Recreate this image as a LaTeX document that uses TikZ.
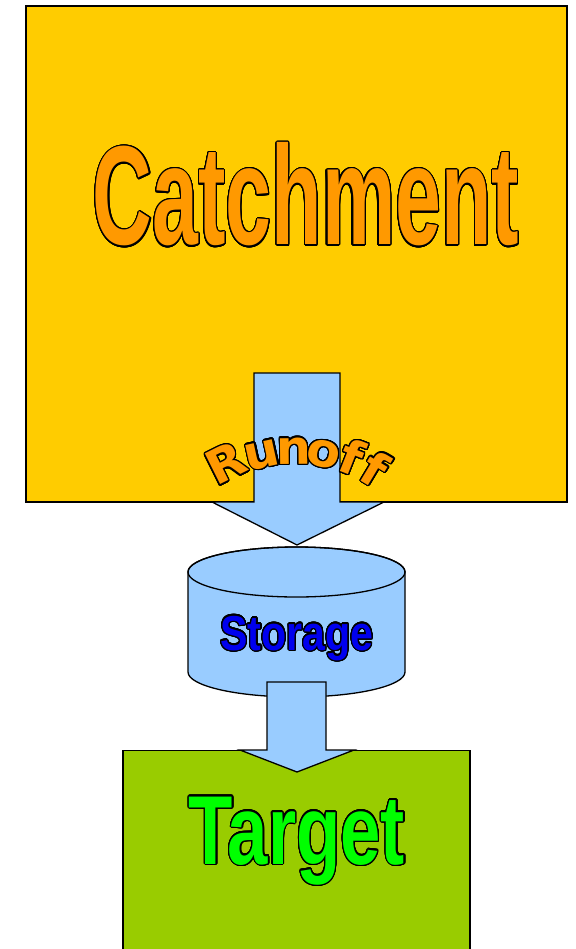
\documentclass[tikz,border=0pt]{standalone}
\usepackage{fontspec}
\usepackage{contour}
\usetikzlibrary{calc}
\setmainfont{Liberation Sans}
\newfontfamily\catchfont[FakeStretch=0.585]{Liberation Sans}
\newfontfamily\storefont[FakeStretch=0.84]{Liberation Sans}
\newfontfamily\targfont[FakeStretch=0.74]{Liberation Sans}
\newfontfamily\runfont[FakeStretch=1.05]{DejaVu Sans}
\contourlength{1.2pt}
\contournumber{32}
\definecolor{catchfill}{HTML}{FFCC00}
\definecolor{orng}{HTML}{FF9900}
\definecolor{arrowblue}{HTML}{99CCFF}
\definecolor{targfill}{HTML}{99CC00}
\definecolor{targtext}{HTML}{00FF00}
\definecolor{storetext}{HTML}{0000EE}
\tikzset{
  outl/.style={draw=black, line width=1.3pt, line join=miter},
  blockarrow/.style={outl, fill=arrowblue},
  bigtext/.style={inner sep=0pt, anchor=base},
  runletter/.style={inner sep=0pt, anchor=base, font=\runfont\bfseries\fontsize{47}{47}\selectfont, text=orng},
}
\begin{document}
\begin{tikzpicture}[x=1pt, y=-1pt]
\useasboundingbox (0,0) rectangle (575,949);
\clip (0,0) rectangle (575,949);
% catchment
\node[outl, fill=catchfill, minimum width=541pt, minimum height=496pt, inner sep=0pt] (catch) at (296.5,254) {};
\node[bigtext, font=\catchfont\bfseries\fontsize{141}{141}\selectfont, text=orng] (catchlabel) at (306,245) {\contour{black}{Catchment}};
% runoff arrow
\draw[blockarrow] (254,373) -- (340,373) -- (340,502) -- (384,502) -- (297,545) -- (212,502) -- (254,502) -- cycle;
\coordinate (rc) at (295,602);
\foreach \ch/\ang [count=\i] in {R/116.5, u/102.5, n/90.5, o/79, f/68.5, f/59}
  \node[runletter, rotate=\ang-90] (run\i) at ($(rc)+(\ang:138pt)$) {\contour{black}{\ch}};
% storage cylinder
\draw[outl, fill=arrowblue] (188,572) -- (188,672)
  arc[start angle=180, end angle=360, x radius=108.5pt, y radius=25pt]
  -- (405,572)
  arc[start angle=0, end angle=180, x radius=108.5pt, y radius=25pt] -- cycle;
\draw[outl] (296.5,572) ellipse (108.5pt and 25pt);
\node[bigtext, font=\storefont\bfseries\fontsize{49}{49}\selectfont, text=storetext] (store) at (297,650) {\contour{black}{Storage}};
% target
\node[outl, fill=targfill, minimum width=347pt, minimum height=240pt, inner sep=0pt, anchor=north] (target) at (296.5,750) {};
\draw[blockarrow] (267,682) -- (326,682) -- (326,750) -- (354,750) -- (297,772) -- (240,750) -- (267,750) -- cycle;
\node[bigtext, font=\targfont\bfseries\fontsize{98}{98}\selectfont, text=targtext] (targlabel) at (297,864) {\contour{black}{Target}};
\end{tikzpicture}
\end{document}
